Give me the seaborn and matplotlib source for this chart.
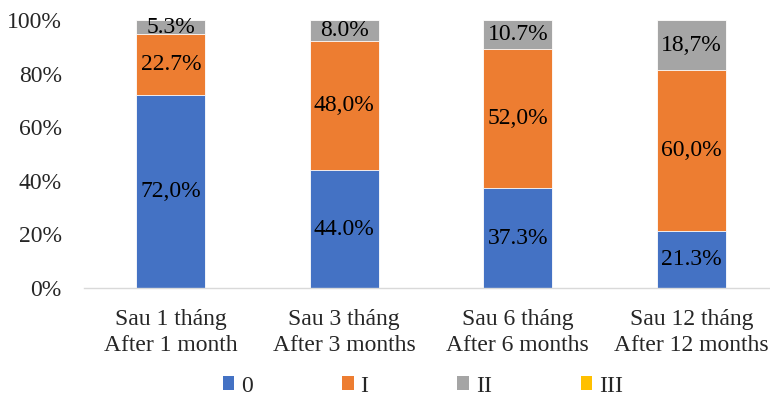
import matplotlib
matplotlib.use('Agg')
import matplotlib.pyplot as plt
import seaborn as sns
import numpy as np
from pandas import DataFrame
from matplotlib.patches import Patch

# data
categories = ["Sau 1 tháng\nAfter 1 month", "Sau 3 tháng\nAfter 3 months",
              "Sau 6 tháng\nAfter 6 months", "Sau 12 tháng\nAfter 12 months"]
series = ["0", "I", "II", "III"]
grade_0 = [72.0, 44.0, 37.3, 21.3]
grade_1 = [22.7, 48.0, 52.0, 60.0]
grade_2 = [5.3, 8.0, 10.7, 18.7]
grade_3 = [0.0, 0.0, 0.0, 0.0]
labels_0 = ["72,0%", "44.0%", "37.3%", "21.3%"]
labels_1 = ["22.7%", "48,0%", "52,0%", "60,0%"]
labels_2 = ["5.3%", "8.0%", "10.7%", "18,7%"]
colors = ['#4472C4', '#ED7D31', '#A5A5A5', '#FFC000']

sns.set_style('white')
plt.rcParams['font.family'] = ['Liberation Serif', 'DejaVu Serif']
fs = 17

fig = plt.figure(figsize=(7.7, 4.2), dpi=100)
ax = fig.add_axes([84 / 770, 132 / 420, 694 / 770, 268 / 420])

values = [grade_0, grade_1, grade_2, grade_3]
cum = np.cumsum(np.array(values), axis=0)
# draw from the top of the stack down so lower segments overlay
for k in range(len(series) - 1, -1, -1):
    df = DataFrame({'cat': categories, 'val': cum[k]})
    sns.barplot(data=df, x='cat', y='val', color=colors[k], saturation=1,
                width=0.4, edgecolor='white', linewidth=0.6, ax=ax, zorder=2)

# labels
for k, labs in enumerate([labels_0, labels_1, labels_2]):
    base = cum[k] - np.array(values[k])
    for i, lab in enumerate(labs):
        ax.text(i, base[i] + values[k][i] / 2, lab, ha='center', va='center',
                fontsize=fs, color='black', zorder=3)

ax.set_ylim(0, 100)
ax.set_xlim(-0.5, 3.5)
ax.set_yticks(np.arange(0, 101, 20))
ax.set_yticklabels([f"{v}%" for v in range(0, 101, 20)], fontsize=fs)
ax.set_xticks(range(4))
ax.set_xticklabels(categories, fontsize=fs, linespacing=1.35)
ax.tick_params(axis='y', length=0, pad=16)
ax.tick_params(axis='x', length=0, pad=15)
ax.set_xlabel('')
ax.set_ylabel('')
for s in ['top', 'right', 'left']:
    ax.spines[s].set_visible(False)
ax.spines['bottom'].set_color('#D9D9D9')
ax.spines['bottom'].set_linewidth(1)

handles = [Patch(facecolor=c, edgecolor='none') for c in colors]
fig.legend(handles, series, loc='center', bbox_to_anchor=(423 / 770, 34 / 420),
           ncol=4, frameon=False, fontsize=fs, handlelength=0.5, handleheight=0.5,
           handletextpad=0.3, columnspacing=3.75)

fig.savefig('out.png', dpi=100)
